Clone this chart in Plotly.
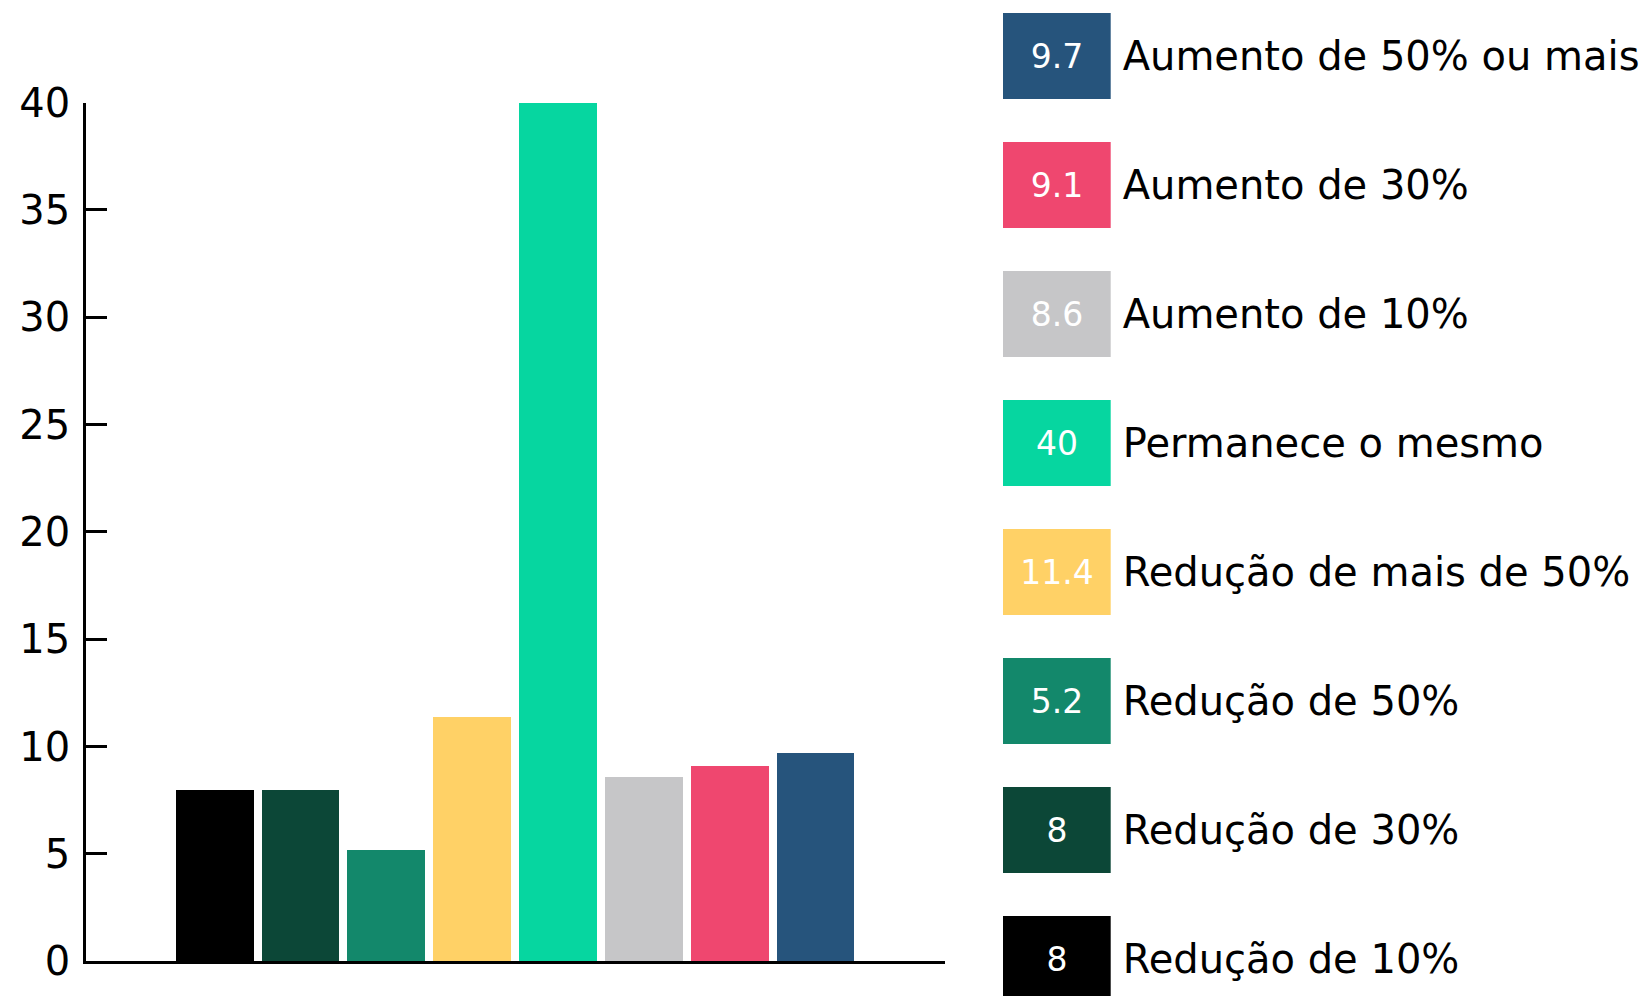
import plotly.graph_objects as go

# ---- data ----
categories = [
    "Redução de 10%",
    "Redução de 30%",
    "Redução de 50%",
    "Redução de mais de 50%",
    "Permanece o mesmo",
    "Aumento de 10%",
    "Aumento de 30%",
    "Aumento de 50% ou mais",
]
values = [8, 8, 5.2, 11.4, 40, 8.6, 9.1, 9.7]
colors = ["#000000", "#0c4737", "#13886b", "#ffd166", "#06d6a0",
          "#c6c6c8", "#ef476f", "#26547c"]
y_ticks = [0, 5, 10, 15, 20, 25, 30, 35, 40]

W, H = 1650, 996
FONT = "DejaVu Sans"
idx = list(range(len(categories)))

fig = go.Figure()

# main bars
fig.add_trace(go.Bar(
    x=idx, y=values, marker=dict(color=colors, line=dict(width=0)),
    width=0.907, hovertext=categories, showlegend=False,
    xaxis="x", yaxis="y",
))

# custom legend: coloured boxes holding the values, labels to the right
fig.add_trace(go.Bar(
    x=[1] * len(idx), y=idx, base=0, orientation="h",
    marker=dict(color=colors, line=dict(width=0)),
    width=0.667,
    text=[f"{v:g}" for v in values],
    textposition="inside", insidetextanchor="middle", textangle=0,
    textfont=dict(family=FONT, size=33, color="white"),
    hovertext=categories, showlegend=False,
    xaxis="x2", yaxis="y2",
))

# pixel geometry
ax_left, ax_right = 86, 945
ax_top, ax_bottom = 102.6, 961.3
leg_left, leg_right = 1003, 1110.7
pitch = 129.0
top_center = 56.3
n = len(categories)
y2_top = (n - 1) + top_center / pitch
y2_bot = y2_top - H / pitch

fig.update_layout(
    autosize=True,
    margin=dict(l=0, r=0, t=0, b=0, autoexpand=False),
    paper_bgcolor="white", plot_bgcolor="white",
    font=dict(family=FONT, color="black"),
    bargap=0,
    xaxis=dict(
        domain=[ax_left / W, ax_right / W],
        range=[-1.5, n + 0.51],
        showline=True, linecolor="black", linewidth=2.5,
        tickmode="array", tickvals=[n + 0.5], ticks="inside",
        ticklen=20, tickwidth=2.5, tickcolor="black",
        showticklabels=False, showgrid=False, zeroline=False,
        anchor="y",
    ),
    yaxis=dict(
        domain=[1 - ax_bottom / H, 1 - ax_top / H],
        range=[0, 40],
        showline=True, linecolor="black", linewidth=2.5,
        tickmode="array", tickvals=y_ticks, ticks="inside",
        ticklen=21, tickwidth=2.5, tickcolor="black",
        tickfont=dict(family=FONT, size=40, color="black"),
        ticklabelstandoff=5,
        showgrid=False, zeroline=False, anchor="x",
    ),
    xaxis2=dict(
        domain=[leg_left / W, leg_right / W], range=[0, 1],
        visible=False, anchor="y2", fixedrange=True,
    ),
    yaxis2=dict(
        domain=[0, 1], range=[y2_bot, y2_top],
        tickmode="array", tickvals=idx, ticktext=categories,
        side="right", anchor="x2",
        showline=False, showgrid=False, zeroline=False, ticks="",
        tickfont=dict(family=FONT, size=40, color="black"),
        ticklabelstandoff=11, fixedrange=True,
    ),
)

post = (
    "document.documentElement.style.margin='0';"
    "document.body.style.margin='0';"
    "document.body.style.overflow='hidden';"
    "var gd=document.getElementById('{plot_id}');"
    "gd.style.width='100vw';gd.style.height='100vh';"
    "Plotly.Plots.resize(gd);"
)
fig.write_html("out.html", config={"displayModeBar": False, "responsive": True},
               default_width="100vw", default_height="100vh",
               post_script=post)
